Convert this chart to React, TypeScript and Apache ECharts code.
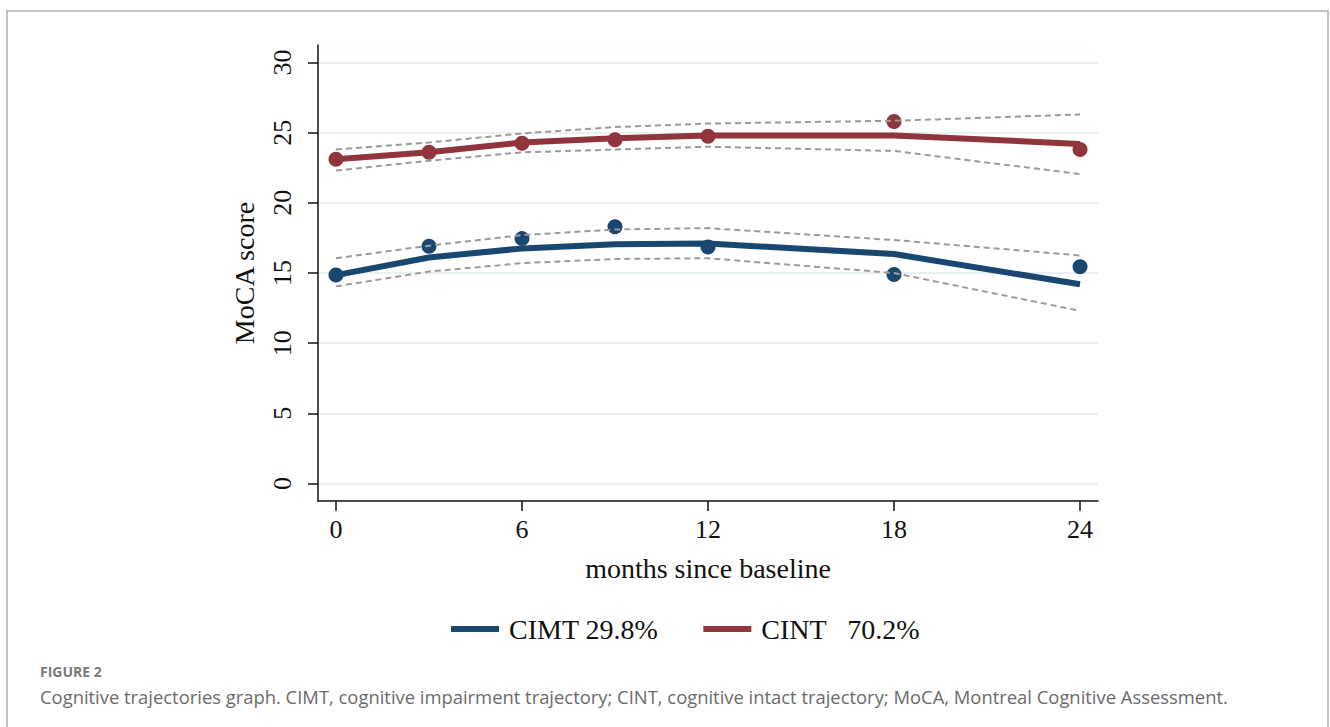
import React, { useEffect, useRef } from "react";
import * as echarts from "echarts";

const months = [0, 3, 6, 9, 12, 18, 24];
const xTicks = [0, 6, 12, 18, 24];
const yTicks = [0, 5, 10, 15, 20, 25, 30];

const cimtObs = [14.85, 16.9, 17.45, 18.3, 16.85, 14.9, 15.45];
const cimtFit = [14.85, 16.1, 16.75, 17.05, 17.1, 16.35, 14.2];
const cimtUpper = [16.05, 16.95, 17.7, 18.1, 18.2, 17.35, 16.25];
const cimtLower = [14.05, 15.1, 15.7, 16.0, 16.05, 15.0, 12.3];

const cintObs = [23.1, 23.6, 24.25, 24.5, 24.75, 25.8, 23.8];
const cintFit = [23.1, 23.6, 24.3, 24.6, 24.8, 24.8, 24.2];
const cintUpper = [23.8, 24.3, 24.95, 25.4, 25.65, 25.85, 26.3];
const cintLower = [22.3, 23.0, 23.6, 23.8, 24.0, 23.7, 22.05];

const cimtName = "CIMT 29.8%";
const cintName = "CINT   70.2%";

const BLUE = "#1a476f";
const RED = "#90353b";
const GRAY = "#9a9a9a";
const SERIF = "'Liberation Serif', 'Times New Roman', serif";
const SANS = "'Open Sans', Lato, sans-serif";

const pairs = (ys: number[]) => months.map((m, i) => [m, ys[i]]);

export default function App() {
  const ref = useRef<HTMLDivElement>(null);
  useEffect(() => {
    document.body.style.margin = "0";
    const chart = echarts.init(ref.current!, null, { renderer: "svg" });
    const ciLine = (name: string, ys: number[]) => ({
      name,
      type: "line",
      data: pairs(ys),
      symbol: "none",
      z: 4,
      silent: true,
      lineStyle: { color: GRAY, width: 2, type: [6, 4] },
    });
    const obs = (name: string, ys: number[], color: string) => ({
      name,
      type: "scatter",
      data: pairs(ys),
      symbolSize: 15,
      z: 2,
      itemStyle: { color, opacity: 1 },
    });
    const fit = (name: string, ys: number[], color: string) => ({
      name,
      type: "line",
      data: pairs(ys),
      symbol: "none",
      z: 3,
      lineStyle: { color, width: 6 },
      itemStyle: { color },
    });
    chart.setOption({
      animation: false,
      backgroundColor: "#ffffff",
      grid: { left: 318, top: 45, right: 232, bottom: 226 },
      xAxis: {
        type: "value",
        min: -0.58,
        max: 24.58,
        name: "months since baseline",
        nameLocation: "middle",
        nameGap: 53,
        nameTextStyle: { fontFamily: SERIF, fontSize: 28, color: "#111" },
        axisLine: { onZero: false, lineStyle: { color: "#111", width: 1.5 } },
        axisTick: { customValues: xTicks, length: 10, lineStyle: { color: "#111", width: 1.5 } },
        axisLabel: { customValues: xTicks, margin: 15, fontFamily: SERIF, fontSize: 26, color: "#111" },
        splitLine: { show: false },
      },
      yAxis: {
        type: "value",
        min: -1.25,
        max: 31.25,
        name: "MoCA score",
        nameLocation: "middle",
        nameGap: 60,
        nameTextStyle: { fontFamily: SERIF, fontSize: 28, color: "#111" },
        axisLine: { onZero: false, lineStyle: { color: "#111", width: 1.5 } },
        axisTick: { customValues: yTicks, length: 10, lineStyle: { color: "#111", width: 1.5 } },
        axisLabel: { customValues: yTicks, rotate: 90, margin: 23, fontFamily: SERIF, fontSize: 26, color: "#111" },
        splitLine: { show: true, lineStyle: { color: "#e8f0f1", width: 2 } },
      },
      legend: {
        left: 446,
        top: 610,
        itemWidth: 48,
        itemHeight: 6,
        itemGap: 45,
        icon: "rect",
        data: [cimtName, cintName],
        textStyle: { fontFamily: SERIF, fontSize: 28, color: "#111", padding: [0, 0, 0, 5] },
      },
      series: [
        obs("cimt-obs", cimtObs, BLUE),
        obs("cint-obs", cintObs, RED),
        fit(cimtName, cimtFit, BLUE),
        fit(cintName, cintFit, RED),
        ciLine("cimt-up", cimtUpper),
        ciLine("cimt-lo", cimtLower),
        ciLine("cint-up", cintUpper),
        ciLine("cint-lo", cintLower),
      ],
      graphic: [
        {
          type: "rect",
          shape: { x: 7, y: 11, width: 1321, height: 740 },
          style: { fill: "none", stroke: "#b0b0b0", lineWidth: 1.5 },
          silent: true,
        },
        {
          type: "text",
          x: 40,
          y: 671,
          style: {
            text: "FIGURE 2",
            font: `bold 14px ${SANS}`,
            fill: "#7a7a7a",
            verticalAlign: "middle",
          },
        },
        {
          type: "text",
          x: 40,
          y: 696,
          style: {
            text: "Cognitive trajectories graph. CIMT, cognitive impairment trajectory; CINT, cognitive intact trajectory; MoCA, Montreal Cognitive Assessment.",
            font: `18.4px ${SANS}`,
            fill: "#6b6b6b",
            verticalAlign: "middle",
          },
        },
      ],
    });
    return () => chart.dispose();
  }, []);
  return <div ref={ref} style={{ position: "absolute", left: 0, top: 0, width: 1330, height: 727 }} />;
}
